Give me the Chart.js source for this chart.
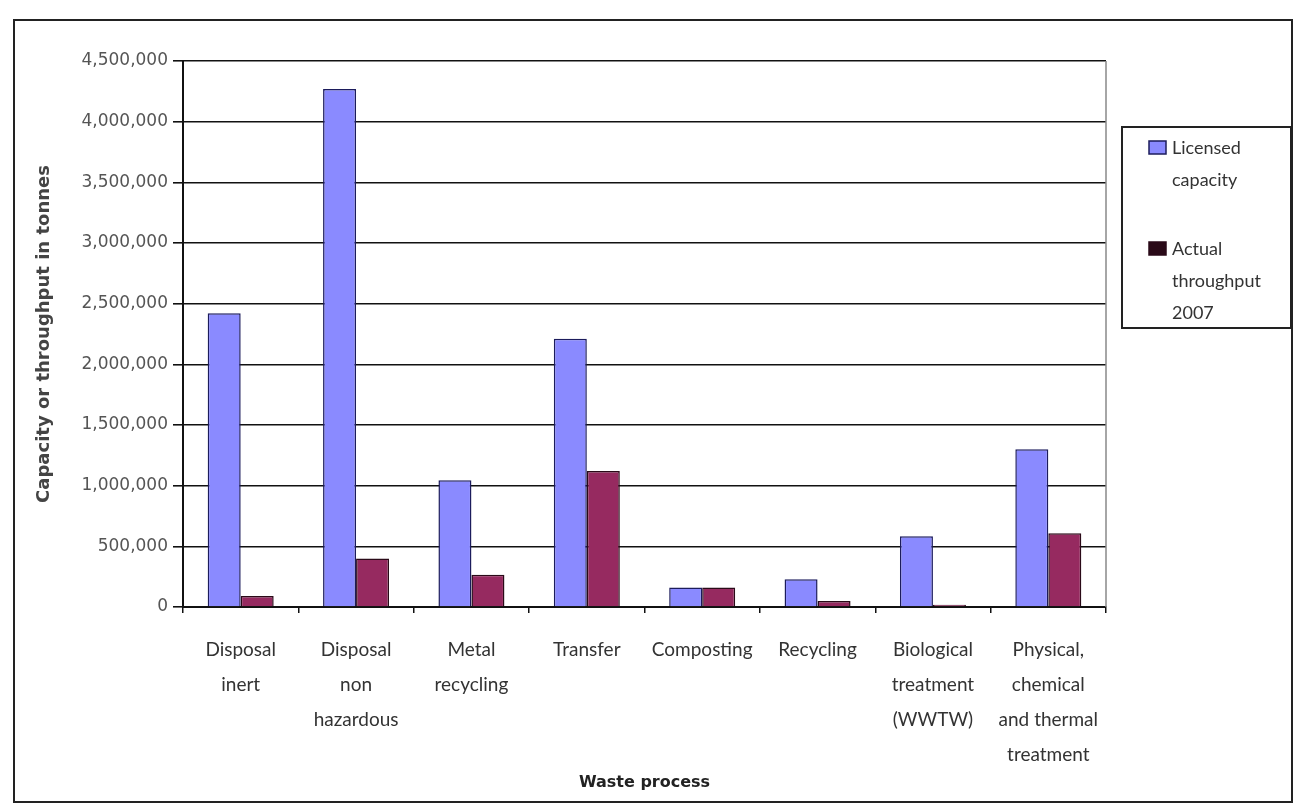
<!DOCTYPE html>
<html>
<head>
<meta charset="utf-8">
<title>Waste process capacity</title>
<script src="https://cdn.jsdelivr.net/npm/chart.js@4.4.1/dist/chart.umd.min.js"></script>
<style>
    html, body { margin: 0; padding: 0; background: #fff; }
    canvas { display: block; }
</style>
</head>
<body>
<canvas id="wasteChart" width="1297" height="804"></canvas>
<script>
// ===========================
// Data
// ===========================

const categories = [
    ['Disposal', 'inert'],
    ['Disposal', 'non', 'hazardous'],
    ['Metal', 'recycling'],
    ['Transfer'],
    ['Composting'],
    ['Recycling'],
    ['Biological', 'treatment', '(WWTW)'],
    ['Physical,', 'chemical', 'and thermal', 'treatment']
];
const licensedCapacity = [2420000, 4270000, 1045000, 2210000, 160000, 228000, 584000, 1300000];
const actualThroughput = [90000, 400000, 266000, 1120000, 160000, 50000, 18000, 607000];
const seriesLabels = [['Licensed', 'capacity'], ['Actual', 'throughput', '2007']];
const yMax = 4500000;
const yStep = 500000;

// ===========================
// Plugins
// ===========================

const frame = {
    id: 'frame',
    afterDraw(chart) {
        const { ctx, chartArea } = chart;
        ctx.save();
        // outer border
        ctx.strokeStyle = '#222';
        ctx.lineWidth = 2;
        ctx.strokeRect(14, 20, 1278, 782);
        // plot right edge
        ctx.strokeStyle = '#888';
        ctx.lineWidth = 1.5;
        ctx.beginPath();
        ctx.moveTo(chartArea.right, chartArea.top);
        ctx.lineTo(chartArea.right, chartArea.bottom);
        ctx.stroke();
        ctx.restore();
    }
};

const boxLegend = {
    id: 'boxLegend',
    afterDraw(chart) {
        const ctx = chart.ctx;
        ctx.save();
        ctx.strokeStyle = '#222';
        ctx.lineWidth = 2;
        ctx.strokeRect(1122, 127, 169, 201);
        ctx.font = '18px Lato';
        ctx.textBaseline = 'middle';
        chart.data.datasets.forEach((ds, i) => {
            const top = i === 0 ? 141 : 242;
            ctx.fillStyle = i === 0 ? ds.backgroundColor : ds.borderColor;
            ctx.fillRect(1149, top, 17, 13);
            ctx.strokeStyle = ds.borderColor;
            ctx.lineWidth = 1.5;
            ctx.strokeRect(1149, top, 17, 13);
            ctx.fillStyle = '#333';
            seriesLabels[i].forEach((line, j) => {
                ctx.fillText(line, 1172, top + 7 + j * 32);
            });
        });
        ctx.restore();
    }
};

// ===========================
// Chart
// ===========================

const ctx = document.getElementById('wasteChart');

new Chart(ctx, {
    type: 'bar',
    data: {
        labels: categories,
        datasets: [{
            label: seriesLabels[0].join(' '),
            data: licensedCapacity,
            backgroundColor: '#8a8aff',
            borderColor: '#1c1c5c',
            borderWidth: 1.5,
            categoryPercentage: 0.572,
            barPercentage: 1.0
        }, {
            label: seriesLabels[1].join(' '),
            data: actualThroughput,
            backgroundColor: '#962a60',
            borderColor: '#2a0a18',
            borderWidth: 1.5,
            categoryPercentage: 0.572,
            barPercentage: 1.0
        }]
    },
    options: {
        responsive: false,
        animation: false,
        layout: {
            padding: { left: 0, right: 191, top: 61, bottom: 0 }
        },
        plugins: {
            legend: { display: false },
            tooltip: { enabled: false }
        },
        scales: {
            x: {
                afterFit(scale) { scale.height = 197; },
                grid: {
                    display: true,
                    drawOnChartArea: false,
                    tickLength: 6,
                    color: '#111',
                    lineWidth: 1.5
                },
                border: { color: '#111', width: 2 },
                ticks: {
                    color: '#333',
                    padding: 19,
                    maxRotation: 0,
                    autoSkip: false,
                    font: { family: 'Lato', size: 19, lineHeight: '35px' }
                },
                title: {
                    display: true,
                    text: 'Waste process',
                    color: '#222',
                    padding: { top: 0, bottom: 12 },
                    font: { family: '"DejaVu Sans"', size: 16, weight: 'bold' }
                }
            },
            y: {
                min: 0,
                max: yMax,
                afterFit(scale) { scale.width = 183; },
                grid: {
                    color: '#111',
                    lineWidth: 1.6,
                    tickLength: 10
                },
                border: { color: '#111', width: 2 },
                ticks: {
                    stepSize: yStep,
                    padding: 5,
                    color: '#555',
                    font: { family: '"DejaVu Sans"', size: 17 },
                    callback: (v) => v.toLocaleString('en-US')
                },
                title: {
                    display: true,
                    text: 'Capacity or throughput in tonnes',
                    color: '#444',
                    padding: { top: 34, bottom: 0 },
                    font: { family: '"DejaVu Sans"', size: 18, weight: 'bold' }
                }
            }
        }
    },
    plugins: [frame, boxLegend]
});
</script>
</body>
</html>
